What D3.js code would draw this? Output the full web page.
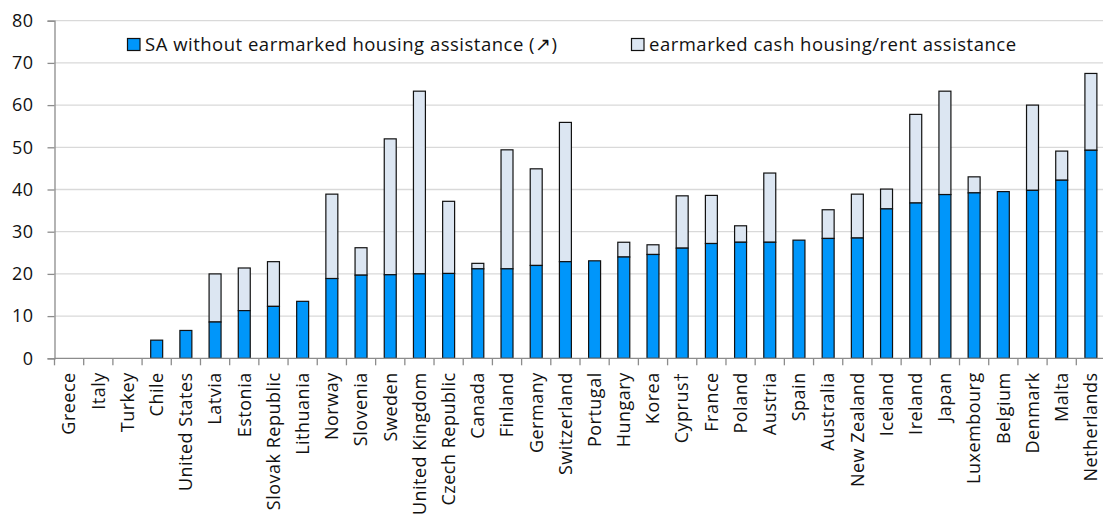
<!DOCTYPE html>
<html>
<head>
<meta charset="utf-8">
<script src="https://cdn.jsdelivr.net/npm/d3@7"></script>
<style>
  body { margin: 0; background: #fff; }
  text { font-family: "Open Sans", "Noto Sans", sans-serif; fill: #111; }
</style>
</head>
<body>
<div id="chart"></div>
<script>
var countries = ["Greece", "Italy", "Turkey", "Chile", "United States", "Latvia", "Estonia",
  "Slovak Republic", "Lithuania", "Norway", "Slovenia", "Sweden", "United Kingdom",
  "Czech Republic", "Canada", "Finland", "Germany", "Switzerland", "Portugal", "Hungary",
  "Korea", "Cyprus\u2020", "France", "Poland", "Austria", "Spain", "Australia", "New Zealand",
  "Iceland", "Ireland", "Japan", "Luxembourg", "Belgium", "Denmark", "Malta", "Netherlands"];

// SA without earmarked housing assistance
var saValues = [0, 0, 0, 4.3, 6.6, 8.6, 11.3, 12.3, 13.5, 18.9, 19.7, 19.8, 20.0,
  20.1, 21.2, 21.2, 22.0, 22.9, 23.1, 24.0, 24.6, 26.1, 27.2, 27.5, 27.5, 28.0, 28.4, 28.5,
  35.4, 36.8, 38.8, 39.2, 39.5, 39.8, 42.2, 49.3];

// total including earmarked cash housing/rent assistance
var totalValues = [0, 0, 0, 4.3, 6.6, 20.0, 21.4, 22.9, 13.5, 38.9, 26.2, 52.0, 63.3,
  37.2, 22.5, 49.4, 44.9, 55.9, 23.1, 27.5, 26.9, 38.5, 38.6, 31.4, 43.9, 28.0, 35.2, 38.9,
  40.1, 57.8, 63.3, 43.0, 39.5, 60.0, 49.1, 67.5];

var yTicks = [0, 10, 20, 30, 40, 50, 60, 70, 80];

var legendLabels = ["SA without earmarked housing assistance (\u2197)",
  "earmarked cash housing/rent assistance"];

var svgWidth = 1103;
var svgHeight = 518;
var margin = { top: 20.7, left: 54.5 };
var width = 1051;
var height = 337.6;

var blue = "#0096fa";
var pale = "#dce6f2";
var axisGrey = "#8c8c8c";

var svg = d3.select("#chart")
  .append("svg")
  .attr("width", svgWidth)
  .attr("height", svgHeight);

var chartGroup = svg.append("g")
  .attr("transform", `translate(${margin.left}, ${margin.top})`);

var x = d3.scaleBand()
  .domain(countries)
  .range([0, width])
  .paddingInner(0.59)
  .paddingOuter(0.295);

var y = d3.scaleLinear()
  .domain([0, 80])
  .range([height, 0]);

// gridlines
chartGroup.append("g")
  .selectAll("line")
  .data(yTicks.filter(d => d > 0))
  .enter()
  .append("line")
  .attr("x1", 0)
  .attr("x2", width)
  .attr("y1", d => y(d))
  .attr("y2", d => y(d))
  .attr("stroke", "#d9d9d9")
  .attr("stroke-width", 1.3);

// bars
var data = countries.map(function(c, i) {
  return { country: c, sa: saValues[i], total: totalValues[i] };
});

chartGroup.append("g")
  .selectAll("rect")
  .data(data.filter(d => d.total > d.sa))
  .enter()
  .append("rect")
  .attr("x", d => x(d.country))
  .attr("width", x.bandwidth())
  .attr("y", d => y(d.total))
  .attr("height", d => y(d.sa) - y(d.total))
  .attr("fill", pale)
  .attr("stroke", "#111")
  .attr("stroke-width", 1.2);

chartGroup.append("g")
  .selectAll("rect")
  .data(data.filter(d => d.sa > 0))
  .enter()
  .append("rect")
  .attr("x", d => x(d.country))
  .attr("width", x.bandwidth())
  .attr("y", d => y(d.sa))
  .attr("height", d => height - y(d.sa))
  .attr("fill", blue)
  .attr("stroke", "#111")
  .attr("stroke-width", 1.2);

// y axis
var leftAxis = d3.axisLeft(y).tickValues(yTicks).tickSize(7).tickPadding(14);
var yAxisG = chartGroup.append("g").call(leftAxis);
yAxisG.select(".domain").attr("stroke", axisGrey).attr("stroke-width", 1.3);
yAxisG.selectAll(".tick line").attr("stroke", axisGrey).attr("stroke-width", 1.3);
yAxisG.selectAll(".tick text")
  .style("font-size", "18px")
  .style("letter-spacing", "0.5px")
  .style("font-family", "'Open Sans', sans-serif")
  .attr("fill", "#111");

// x axis: ticks at category boundaries
var step = x.step();
var xAxisG = chartGroup.append("g")
  .attr("transform", `translate(0, ${height})`);
xAxisG.append("line")
  .attr("x1", 0)
  .attr("x2", width)
  .attr("stroke", axisGrey)
  .attr("stroke-width", 1.3);
xAxisG.selectAll("line.tick")
  .data(d3.range(countries.length + 1))
  .enter()
  .append("line")
  .attr("class", "tick")
  .attr("x1", i => i * step)
  .attr("x2", i => i * step)
  .attr("y1", 0)
  .attr("y2", 7)
  .attr("stroke", axisGrey)
  .attr("stroke-width", 1.3);

xAxisG.selectAll("text")
  .data(countries)
  .enter()
  .append("text")
  .attr("transform", d => `translate(${x(d) + x.bandwidth() / 2}, 14) rotate(-90)`)
  .attr("dy", "0.35em")
  .style("text-anchor", "end")
  .style("font-size", "18px")
  .style("letter-spacing", "0.5px")
  .text(d => d);

// legend
var legend = svg.append("g");
var legendX = [127.5, 631.5];
var swatchFill = [blue, pale];
legendLabels.forEach(function(label, i) {
  legend.append("rect")
    .attr("x", legendX[i])
    .attr("y", 38.5)
    .attr("width", 12.5)
    .attr("height", 12)
    .attr("fill", swatchFill[i])
    .attr("stroke", "#111")
    .attr("stroke-width", 1.2);
  legend.append("text")
    .attr("x", legendX[i] + 17.5)
    .attr("y", 51)
    .style("font-size", "18.5px")
    .style("letter-spacing", "0.5px")
    .text(label);
});
</script>
</body>
</html>
